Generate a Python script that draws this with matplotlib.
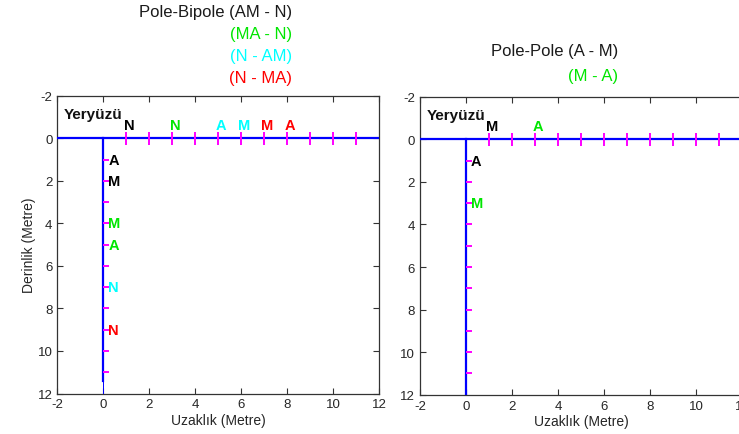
import matplotlib.pyplot as plt

plt.rcParams['font.family'] = ['Liberation Sans', 'DejaVu Sans']
plt.rcParams['axes.unicode_minus'] = False

# electrode stations (metres)
station_pos = [1, 2, 3, 4, 5, 6, 7, 8, 9, 10, 11]
depth_pos = [1, 2, 3, 4, 5, 6, 7, 8, 9, 10, 11]

GREEN = '#00e600'
CYAN = '#00ffff'
RED = '#ff0000'
BLACK = '#000000'

# Pole-Bipole layout
pb_surf_letters = ['N', 'N', 'A', 'M', 'M', 'A']
pb_surf_x = [1, 3, 5, 6, 7, 8]
pb_surf_colors = [BLACK, GREEN, CYAN, CYAN, RED, RED]
pb_bore_letters = ['A', 'M', 'M', 'A', 'N', 'N']
pb_bore_depth = [1, 2, 4, 5, 7, 9]
pb_bore_colors = [BLACK, BLACK, GREEN, GREEN, CYAN, RED]
pb_titles = ['Pole-Bipole (AM - N)', '(MA - N)', '(N - AM)', '(N - MA)']
pb_title_colors = ['#1a1a1a', GREEN, CYAN, RED]

# Pole-Pole layout
pp_surf_letters = ['M', 'A']
pp_surf_x = [1, 3]
pp_surf_colors = [BLACK, GREEN]
pp_bore_letters = ['A', 'M']
pp_bore_depth = [1, 3]
pp_bore_colors = [BLACK, GREEN]
pp_titles = ['Pole-Pole (A - M)', '(M - A)']
pp_title_colors = ['#1a1a1a', GREEN]

fig = plt.figure(figsize=(7.39, 4.35), dpi=100)
ax1 = fig.add_axes([0.0775, 0.0931, 0.4357, 0.6846])
ax2 = fig.add_axes([0.5683, 0.0903, 0.4357, 0.685])


def draw_panel(ax, surf_letters, surf_x, surf_colors, bore_letters, bore_depth,
               bore_colors, bore_end, right_ticks=True):
    ax.set_xlim(-2, 12)
    ax.set_ylim(12, -2)
    ax.set_xticks(range(-2, 13, 2))
    ax.set_yticks(range(-2, 13, 2))
    ax.tick_params(direction='in', top=True, right=right_ticks, length=4,
                   labelsize=9.5, labelcolor='#262626', color='#333333')
    for s in ax.spines.values():
        s.set_color('#333333')
        s.set_linewidth(0.9)

    # ground surface and borehole
    ax.plot([-2, 12], [0, 0], color='#0000ff', lw=1.6, zorder=3)
    ax.plot([0, 0], [0, bore_end], color='#0000ff', lw=1.6, zorder=3)
    if bore_end < 12:
        ax.plot([0, 0], [bore_end, 12], color='#0000ff', lw=0.7, zorder=3)

    # station marks
    ax.vlines(station_pos, -0.3, 0.3, color='#ff00ff', lw=1.4, zorder=4)
    ax.hlines(depth_pos, 0, 0.25, color='#ff00ff', lw=1.4, zorder=4)

    for t, x, c in zip(surf_letters, surf_x, surf_colors):
        ax.text(x + 0.12, -0.3, t, color=c, fontsize=10.5, fontweight='bold',
                ha='center', va='bottom')
    for t, d, c in zip(bore_letters, bore_depth, bore_colors):
        ax.text(0.22, d, t, color=c, fontsize=10.5, fontweight='bold',
                ha='left', va='center')

    ax.text(-1.7, -1.15, 'Yeryüzü', fontsize=11, fontweight='bold',
            ha='left', va='center', color='#111111')
    ax.set_xlabel('Uzaklık (Metre)', fontsize=10, color='#262626', labelpad=2)


draw_panel(ax1, pb_surf_letters, pb_surf_x, pb_surf_colors,
           pb_bore_letters, pb_bore_depth, pb_bore_colors, 11.4)
ax1.set_ylabel('Derinlik (Metre)', fontsize=10, color='#262626', labelpad=1)

draw_panel(ax2, pp_surf_letters, pp_surf_x, pp_surf_colors,
           pp_bore_letters, pp_bore_depth, pp_bore_colors, 12,
           right_ticks=False)

# stacked titles, right aligned
for i, (t, c) in enumerate(zip(pb_titles, pb_title_colors)):
    fig.text(292 / 739, 1 - (13 + 22 * i) / 435, t, color=c, fontsize=12,
             ha='right', va='center')
for i, (t, c) in enumerate(zip(pp_titles, pp_title_colors)):
    fig.text(618 / 739, 1 - (52 + 24 * i) / 435, t, color=c, fontsize=12,
             ha='right', va='center')

fig.savefig('out.png', dpi=100)
